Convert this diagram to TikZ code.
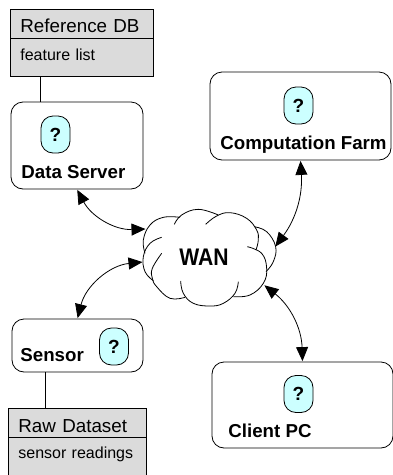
\documentclass[tikz,border=0pt]{standalone}
\usepackage{fontspec}
\setmainfont{Liberation Sans}
\usetikzlibrary{arrows.meta, positioning}
\definecolor{BoxGray}{rgb}{0.86, 0.86, 0.86}
\definecolor{BadgeCyan}{rgb}{0.8, 1, 1}
\tikzset{
	dbhead/.style={draw, fill=BoxGray, rectangle, inner ysep=0pt, inner xsep=10pt, align=left, font=\fontsize{18.8}{22}\selectfont},%
	dbbody/.style={dbhead, font=\fontsize{16}{19}\selectfont, text height=22pt, text depth=16pt},%
	hostbox/.style={draw, rectangle, rounded corners=12pt, inner sep=0pt},%
	badge/.style={draw, fill=BadgeCyan, rectangle, rounded corners=12pt, minimum width=29pt, minimum height=37pt, inner sep=0pt, font=\fontsize{19}{22}\selectfont\bfseries},%
	hostlabel/.style={anchor=base west, inner sep=0pt, font=\fontsize{18.7}{22}\selectfont\bfseries},%
	link/.style={<->, >={Triangle[length=14pt,width=12pt]}, shorten <=0.5pt, shorten >=0.5pt},%
}
\begin{document}
\begin{tikzpicture}[x=1pt, y=-1pt, line width=0.8pt]
	\useasboundingbox (0,0) rectangle (392,475);
	% hosts
	\node[hostbox, minimum width=132pt, minimum height=87pt] (dataserver) at (77,145.5) {};
	\node[hostbox, minimum width=181pt, minimum height=88pt] (farm) at (300.5,116) {};
	\node[hostbox, minimum width=131pt, minimum height=53pt] (sensor) at (77.5,345.5) {};
	\node[hostbox, minimum width=181pt, minimum height=86pt] (client) at (302.5,405) {};
	\node[badge] (q1) at (55.5,134.5) {?};
	\node[badge] (q2) at (298.5,105.5) {?};
	\node[badge] (q3) at (114,346.5) {?};
	\node[badge] (q4) at (298.5,394) {?};
	\node[hostlabel] (dataserverlabel) at (21,178) {Data Server};
	\node[hostlabel] (farmlabel) at (220,149) {Computation Farm};
	\node[hostlabel] (sensorlabel) at (20,361) {Sensor};
	\node[hostlabel] (clientlabel) at (228,437) {Client PC};
	% databases
	\node[dbhead, text width=123pt, text height=23pt, text depth=6pt, anchor=north west] (refhead) at (10,9) {Reference DB};
	\node[dbbody, text width=123pt, below=-0.8pt of refhead] (refbody) {feature list};
	\node[dbhead, text width=118pt, text height=24pt, text depth=5pt, anchor=north west] (rawhead) at (8,408) {Raw Dataset};
	\node[dbbody, text width=118pt, text height=21pt, text depth=18pt, below=-0.8pt of rawhead] (rawbody) {sensor readings};
	% cloud, traced lobe by lobe
	\begin{scope}[shift={(130,190)}, x=0.3333pt, y=-0.3333pt]
		\draw plot[smooth, tension=0.7] coordinates {(45,190) (40,150) (60,105) (100,82) (150,82)};
		\draw plot[smooth, tension=0.7] coordinates {(133,103) (155,75) (205,58) (265,75)};
		\draw plot[smooth, tension=0.7] coordinates {(227,103) (260,78) (300,68) (350,85) (380,120) (385,150) (378,180)};
		\draw plot[smooth, tension=0.7] coordinates {(372,110) (410,125) (437,170) (430,215) (408,245)};
		\draw plot[smooth, tension=0.7] coordinates {(352,170) (395,190) (410,235) (400,280) (360,315) (310,320)};
		\draw plot[smooth, tension=0.7] coordinates {(325,275) (315,310) (280,340) (240,348) (190,340) (160,310) (152,273)};
		\draw plot[smooth, tension=0.7] coordinates {(165,322) (120,325) (80,290) (67,265) (67,235) (95,190)};
		\draw plot[smooth, tension=0.7] coordinates {(95,142) (60,160) (40,200) (45,245) (70,272)};
	\end{scope}
	\node[font=\fontsize{24}{28}\selectfont\bfseries, xscale=0.88, transform shape] (wan) at (204,257) {WAN};
	\coordinate (wanNW) at (146,229);
	\coordinate (wanSW) at (143,262);
	\coordinate (wanNE) at (275,247);
	\coordinate (wanSE) at (264,285);
	\coordinate (reffoot) at (40,76);
	\coordinate (sensorfoot) at (45,372);
	% connectors
	\draw (reffoot) -- (reffoot |- dataserver.north);
	\draw (sensorfoot) -- (sensorfoot |- rawhead.north);
	\draw[link] (dataserver.south) to[bend right=32] (wanNW);
	\draw[link] (farm.south) to[bend left=20] (wanNE);
	\draw[link] (sensor.north) to[bend left=35] (wanSW);
	\draw[link] (wanSE) to[bend left=25] (client.north);
\end{tikzpicture}
\end{document}
